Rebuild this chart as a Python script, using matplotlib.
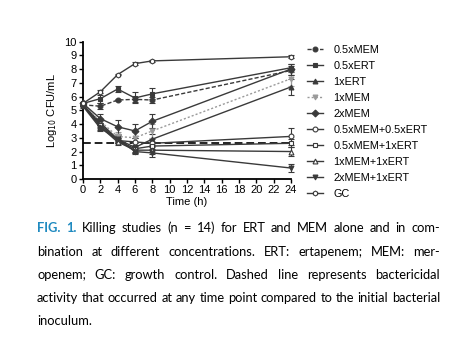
import matplotlib
matplotlib.use("Agg")
import matplotlib.pyplot as plt
from matplotlib.lines import Line2D

plt.rcParams['font.family'] = ['Liberation Sans', 'DejaVu Sans']

# sampling times (h)
times = [0, 2, 4, 6, 8, 24]

labels = ['0.5xMEM', '0.5xERT', '1xERT', '1xMEM', '2xMEM',
          '0.5xMEM+0.5xERT', '0.5xMEM+1xERT', '1xMEM+1xERT', '2xMEM+1xERT', 'GC']

# mean log10 CFU/mL
mem_05 = [5.4, 5.3, 5.75, 5.8, 5.75, 7.9]
ert_05 = [5.5, 5.85, 6.55, 5.9, 6.2, 8.1]
ert_1 = [5.4, 4.1, 2.9, 2.3, 2.9, 6.7]
mem_1 = [5.4, 4.2, 3.1, 3.0, 3.5, 7.3]
mem_2 = [5.5, 4.4, 3.8, 3.5, 4.2, 8.0]
mem05_ert05 = [5.4, 4.0, 2.8, 2.7, 2.6, 3.1]
mem05_ert1 = [5.4, 3.9, 2.8, 2.2, 2.4, 2.6]
mem1_ert1 = [5.4, 3.8, 2.7, 2.1, 2.1, 2.0]
mem2_ert1 = [5.3, 3.7, 2.9, 2.0, 1.9, 0.8]
gc = [5.5, 6.35, 7.6, 8.4, 8.6, 8.9]

# error bars
err_mem_05 = [0.1, 0.2, 0.1, 0.2, 0.2, 0.3]
err_ert_05 = [0.1, 0.3, 0.2, 0.4, 0.4, 0.3]
err_ert_1 = [0.1, 0.2, 0.3, 0.3, 0.4, 0.6]
err_mem_1 = [0.1, 0.2, 0.3, 0.4, 0.5, 0.5]
err_mem_2 = [0.1, 0.3, 0.5, 0.5, 0.5, 0.4]
err_mem05_ert05 = [0.1, 0.2, 0.2, 0.3, 0.3, 0.6]
err_mem05_ert1 = [0.1, 0.2, 0.2, 0.3, 0.3, 0.3]
err_mem1_ert1 = [0.1, 0.2, 0.2, 0.2, 0.3, 0.3]
err_mem2_ert1 = [0.1, 0.2, 0.2, 0.2, 0.3, 0.3]
err_gc = [0.05, 0.1, 0.05, 0.1, 0.05, 0.1]

bactericidal = 2.6

series = [mem_05, ert_05, ert_1, mem_1, mem_2, mem05_ert05, mem05_ert1, mem1_ert1, mem2_ert1, gc]
errors = [err_mem_05, err_ert_05, err_ert_1, err_mem_1, err_mem_2,
          err_mem05_ert05, err_mem05_ert1, err_mem1_ert1, err_mem2_ert1, err_gc]

dark = '#3a3a3a'
light = '#9a9a9a'
# (linestyle, marker, filled, colour)
styles = [((0, (3, 1.5)), 'o', True, dark),
          ('-', 's', True, dark),
          ('-', '^', True, dark),
          ((0, (1.5, 1.5)), 'v', True, light),
          ('-', 'D', True, dark),
          ('-', 'o', False, dark),
          ('-', 's', False, dark),
          ('-', '^', False, dark),
          ('-', 'v', True, dark),
          ('-', 'h', False, dark)]

fig = plt.figure(figsize=(4.61, 3.40), dpi=100)
ax = fig.add_axes([0.180, 0.4735, 0.451, 0.404])

for vals, err, (ls, mk, filled, col) in zip(series, errors, styles):
    ax.errorbar(times, vals, yerr=err, color=col, linestyle=ls, linewidth=1.0,
                marker=mk, markersize=3.5, markerfacecolor=col if filled else 'white',
                markeredgecolor=col, markeredgewidth=0.8,
                elinewidth=0.8, capsize=2, capthick=0.8, clip_on=False, zorder=3)

ax.axhline(bactericidal, color='#222222', linestyle=(0, (4, 2)), linewidth=1.4, zorder=2)

ax.set_xlim(0, 24)
ax.set_ylim(0, 10)
ax.set_xticks(range(0, 25, 2))
ax.set_yticks(range(0, 11))
for s in ['top', 'right']:
    ax.spines[s].set_visible(False)
for s in ['left', 'bottom']:
    ax.spines[s].set_linewidth(1.3)
ax.tick_params(direction='out', length=3, width=1.0, labelsize=8, pad=1.5)
ax.set_xlabel('Time (h)', fontsize=8, labelpad=1)
ax.set_ylabel('Log$_{10}$ CFU/mL', fontsize=8, labelpad=4)

handles = []
for (ls, mk, filled, col) in styles:
    handles.append(Line2D([], [], color=col, linestyle=ls, linewidth=1.0, marker=mk,
                          markersize=3.5, markerfacecolor=col if filled else 'white',
                          markeredgecolor=col, markeredgewidth=0.8))
fig.legend(handles, labels, loc='upper left', bbox_to_anchor=(0.665, 0.868),
           frameon=False, fontsize=7.8, handlelength=1.5, handletextpad=1.0,
           labelspacing=0.55, borderaxespad=0, borderpad=0)

# caption, justified word by word
cap_font = 'Lato'
blue = '#1f8ac0'
cap_lines = [
    "FIG. 1. Killing studies (n = 14) for ERT and MEM alone and in com-",
    "bination at different concentrations. ERT: ertapenem; MEM: mer-",
    "openem; GC: growth control. Dashed line represents bactericidal",
    "activity that occurred at any time point compared to the initial bacterial",
    "inoculum.",
]
x0, x1 = 37 / 461, 440 / 461
line_y = [232, 256, 279, 302, 325]

renderer = fig.canvas.get_renderer()
# size the caption so that the tightest line fills the column
probe = fig.text(0, 0, cap_lines[3], fontsize=10, family=cap_font)
cap_size = 10 * (x1 - x0) * 461 / probe.get_window_extent(renderer).width
probe.remove()
space = fig.text(0, 0, 'a a', fontsize=cap_size, family=cap_font)
aa = fig.text(0, 0, 'aa', fontsize=cap_size, family=cap_font)
space_w = (space.get_window_extent(renderer).width - aa.get_window_extent(renderer).width) / 461
space.remove()
aa.remove()

for li, (line, yy) in enumerate(zip(cap_lines, line_y)):
    words = line.split(' ')
    texts = []
    for wi, w in enumerate(words):
        is_fig = li == 0 and wi < 2
        t = fig.text(0, 1 - yy / 340, w, fontsize=cap_size, family=cap_font,
                     color=blue if is_fig else 'black',
                     weight='bold' if is_fig else 'normal', va='baseline')
        texts.append(t)
    widths = [t.get_window_extent(renderer).width / 461 for t in texts]
    if li == len(cap_lines) - 1:
        gw = space_w
    else:
        gw = (x1 - x0 - sum(widths)) / (len(words) - 1)
    x = x0
    for t, w in zip(texts, widths):
        t.set_x(x)
        x += w + gw

fig.savefig('out.png', dpi=100)
